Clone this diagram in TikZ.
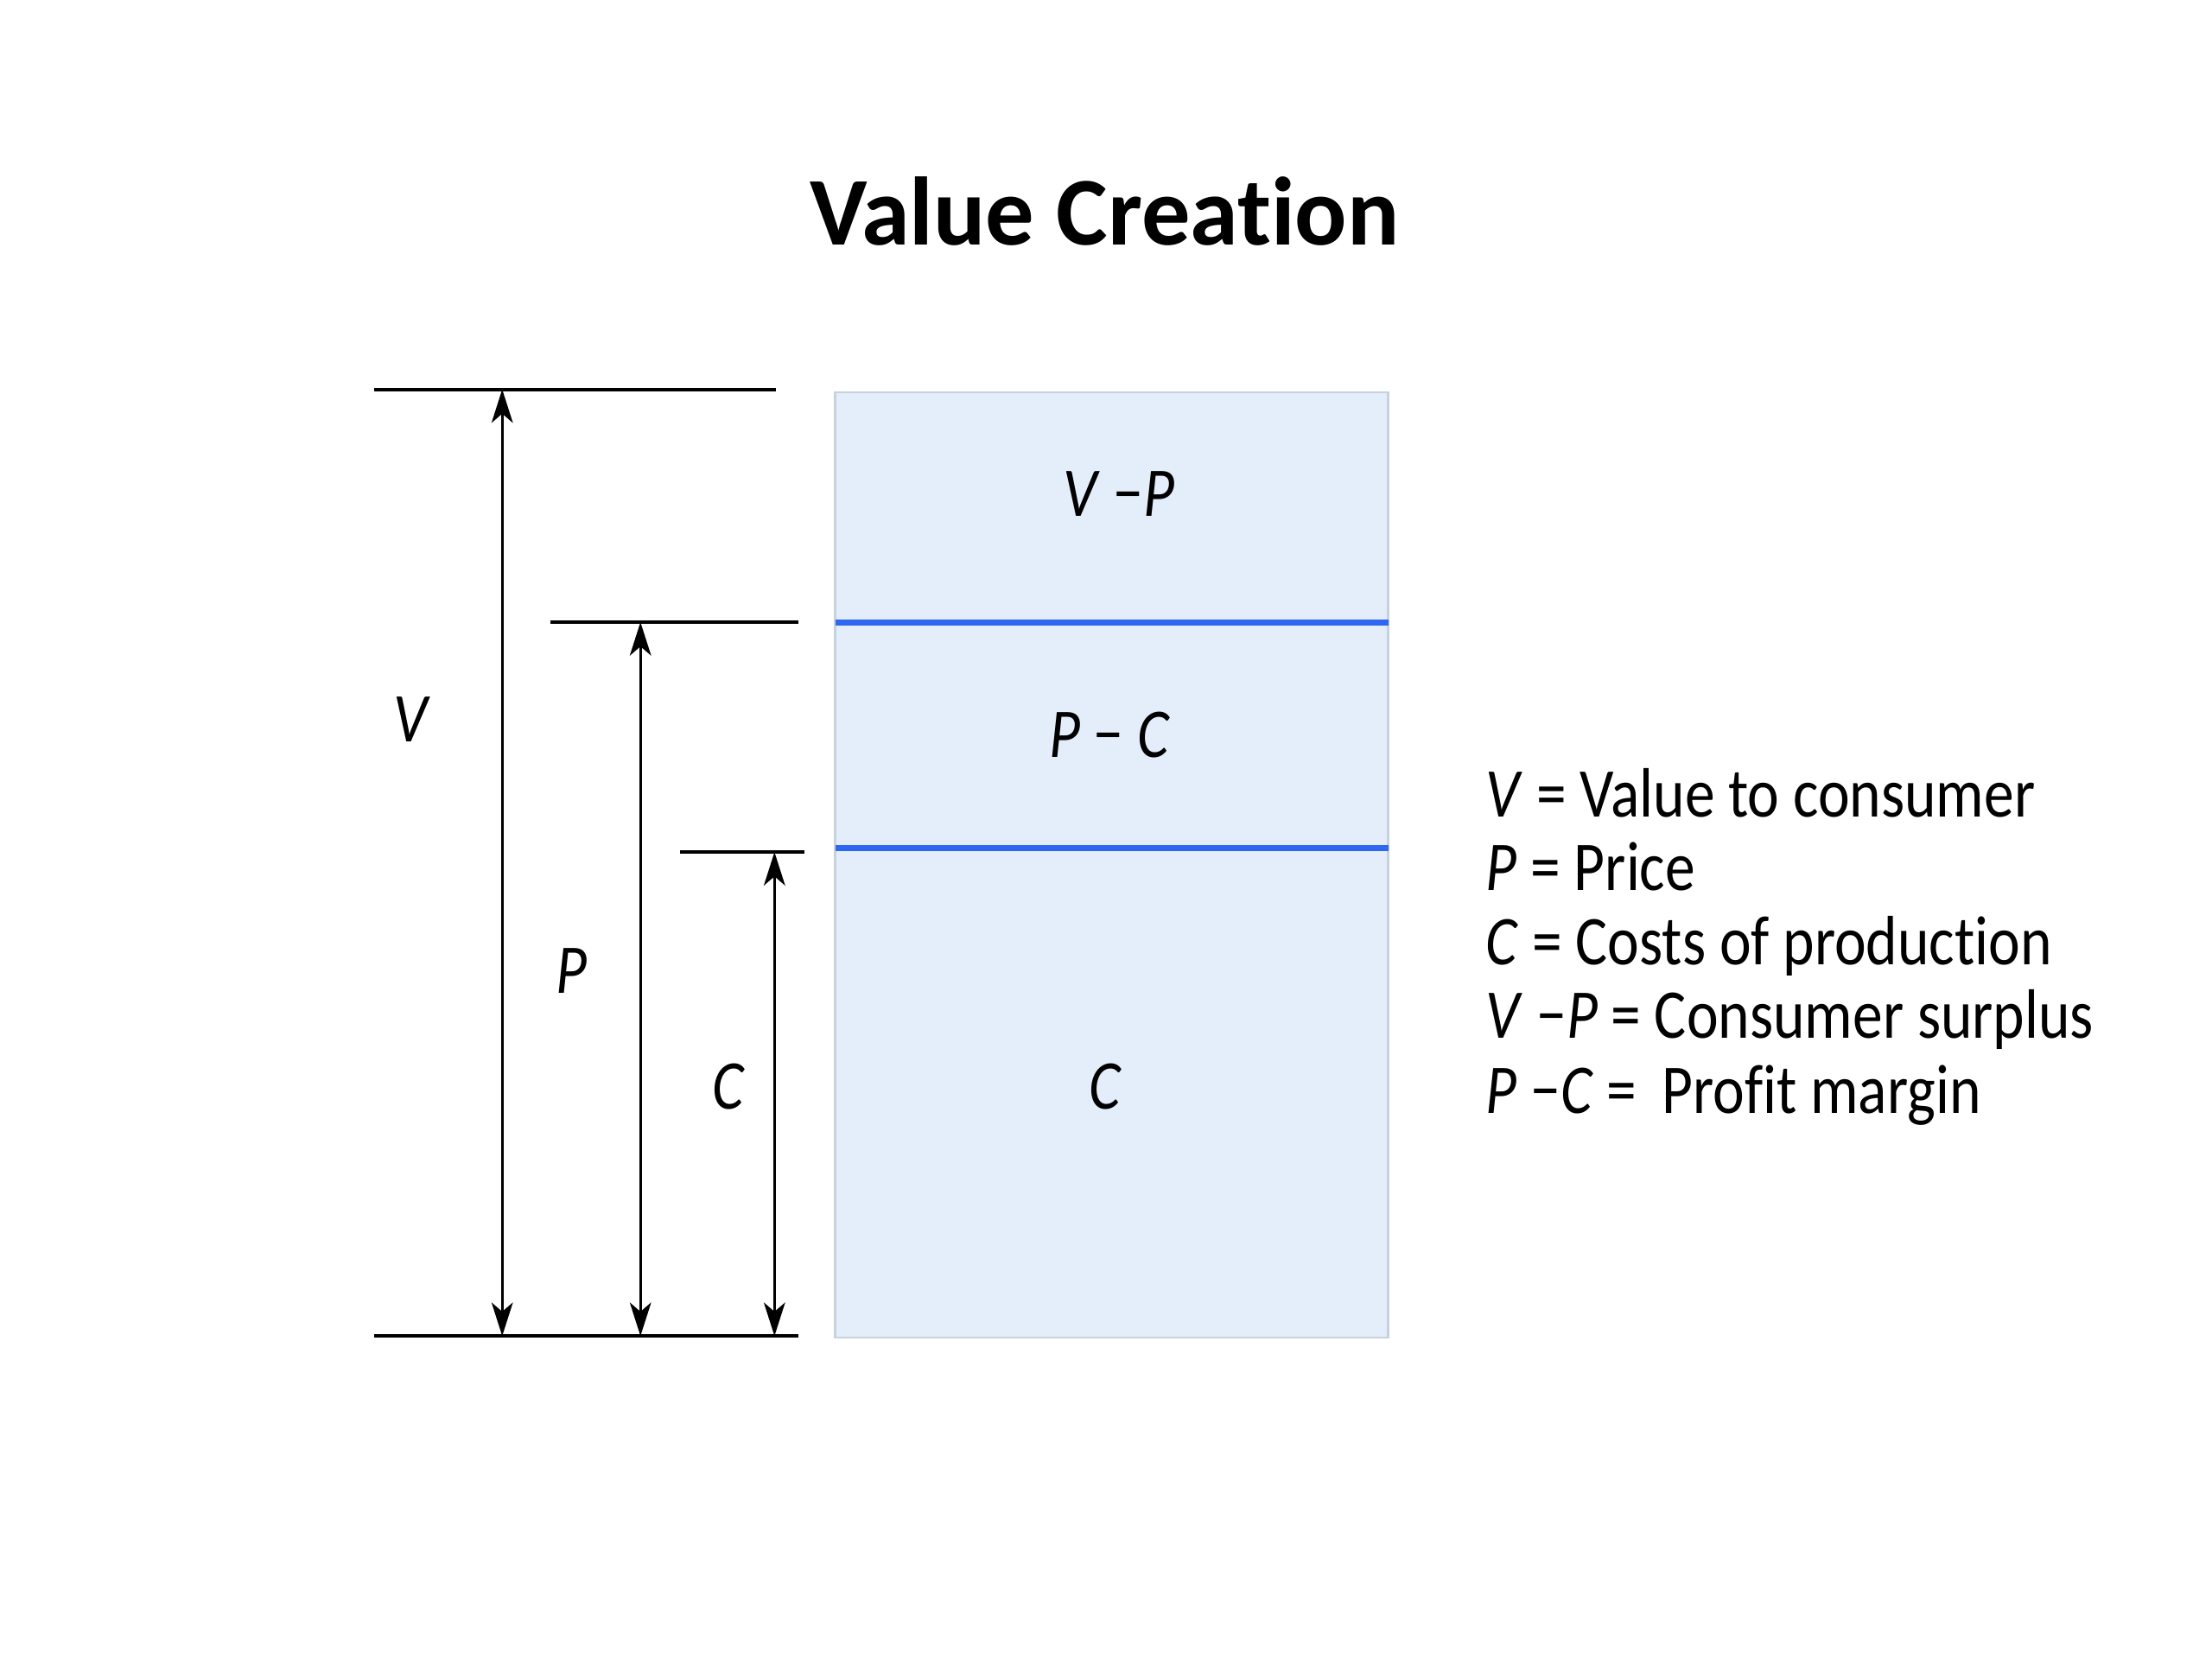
\documentclass[tikz,border=0pt]{standalone}
\usepackage{fontspec}
\setmainfont{Carlito}[Ligatures={TeX,NoCommon}]
\newfontfamily\vcFont{Carlito}[FakeStretch=0.86, Ligatures={TeX,NoCommon}]
\usetikzlibrary{arrows.meta}
\definecolor{vcFill}{HTML}{E4EEFA}
\definecolor{vcEdge}{HTML}{C8D2DF}
\definecolor{vcBlue}{HTML}{2F66F2}
\newcommand{\vcMinus}{\textup{−}}
\tikzset{
  vcbox/.style={fill=vcFill, draw=vcEdge, line width=0.6pt},
  vclevel/.style={draw=black, line width=1.1pt},
  vcdim/.style={draw=black, line width=0.85pt,
                {Stealth[length=11pt,width=7pt,inset=3pt]}-{Stealth[length=11pt,width=7pt,inset=3pt]}},
  vcsplit/.style={draw=vcBlue, line width=2pt},
  vcvar/.style={font=\vcFont\fontsize{23}{28}\selectfont\itshape, inner sep=0pt},
  vclab/.style={font=\vcFont\fontsize{23}{28}\selectfont, inner sep=0pt, anchor=base west},
  vctitle/.style={font=\fontsize{32}{38}\selectfont\bfseries, inner sep=0pt},
}

\begin{document}
\begin{tikzpicture}[x=0.016327cm, y=-0.016327cm]
  \useasboundingbox (0,0) rectangle (1568,1176);
  \node[vctitle] (title) at (783,150) {Value Creation};

  % the bar
  \draw[vcbox] (592,278) rectangle (984,948);
  \coordinate (s1L) at (592,441); \coordinate (s1R) at (984,441);
  \coordinate (s2L) at (592,601); \coordinate (s2R) at (984,601);
  \draw[vcsplit] (s1L) -- (s1R);
  \draw[vcsplit] (s2L) -- (s2R);
  \node[vcvar] (surplus) at (793,350) {V \vcMinus P};
  \node[vcvar] (margin) at (786,521) {P \vcMinus\ C};
  \node[vcvar] (cost) at (783,770) {C};

  % levels
  \coordinate (vL) at (265,276); \coordinate (vR) at (550,276);
  \coordinate (pL) at (390,441); \coordinate (pR) at (566,441);
  \coordinate (cL) at (482,604); \coordinate (cR) at (570,604);
  \coordinate (bL) at (265,947); \coordinate (bR) at (566,947);
  \draw[vclevel] (vL) -- (vR);
  \draw[vclevel] (pL) -- (pR);
  \draw[vclevel] (cL) -- (cR);
  \draw[vclevel] (bL) -- (bR);

  % dimension arrows
  \coordinate (vT) at (356,276); \coordinate (vB) at (356,947);
  \coordinate (pT) at (454,441); \coordinate (pB) at (454,947);
  \coordinate (cT) at (549,604); \coordinate (cB) at (549,947);
  \draw[vcdim] (vT) -- (vB);
  \draw[vcdim] (pT) -- (pB);
  \draw[vcdim] (cT) -- (cB);
  \node[vcvar] (vName) at (291,510) {V};
  \node[vcvar] (pName) at (405,688) {P};
  \node[vcvar] (cName) at (516,770) {C};

  % legend
  \node[vclab] (leg1) at (1053,579) {\textit{V} = Value to consumer};
  \node[vclab] (leg2) at (1053,631) {\textit{P} = Price};
  \node[vclab] (leg3) at (1053,684) {\textit{C} = Costs of production};
  \node[vclab] (leg4) at (1053,736) {\textit{V} \vcMinus\textit{P} = Consumer surplus};
  \node[vclab] (leg5) at (1053,789) {\textit{P} \vcMinus\textit{C} =\ \,Profit margin};
\end{tikzpicture}
\end{document}
